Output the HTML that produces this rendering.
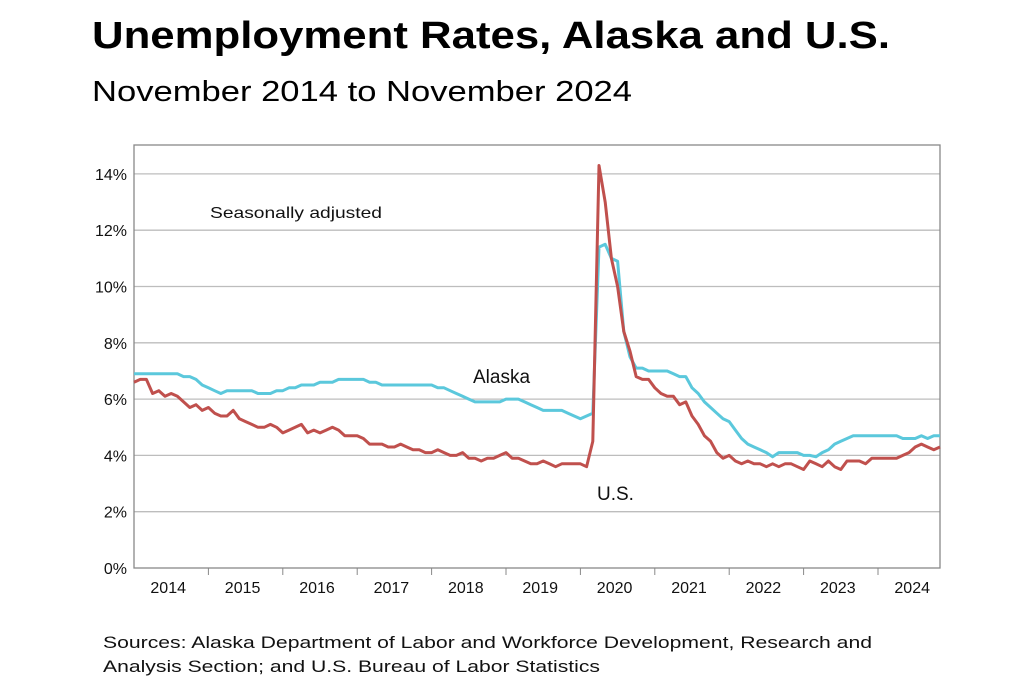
<!DOCTYPE html>
<html><head><meta charset="utf-8"><style>
html,body{margin:0;padding:0;background:#fff;}
body{width:1024px;height:682px;overflow:hidden;position:relative;font-family:"Liberation Sans",sans-serif;}
</style></head><body>
<svg width="1024" height="682" viewBox="0 0 1024 682" xmlns="http://www.w3.org/2000/svg" font-family="Liberation Sans, sans-serif">
<text x="92" y="48" font-size="38" font-weight="bold" fill="#000" textLength="798" lengthAdjust="spacingAndGlyphs">Unemployment Rates, Alaska and U.S.</text>
<text x="92" y="101" font-size="29" fill="#000" textLength="540" lengthAdjust="spacingAndGlyphs">November 2014 to November 2024</text>
<g id="grid" stroke="#bdbdbd" stroke-width="1.3"></g>
<rect x="134" y="145" width="806" height="423" fill="none" stroke="#888" stroke-width="1.3"/>
<g id="ylab" font-size="16" fill="#111" text-anchor="end"></g>
<g id="xlab" font-size="16" fill="#111" text-anchor="middle"></g>
<g id="ticks" stroke="#888" stroke-width="1"></g>
<polyline id="ak" fill="none" stroke="#5bc8dc" stroke-width="3" stroke-linejoin="round"/>
<polyline id="us" fill="none" stroke="#c0504d" stroke-width="3" stroke-linejoin="round"/>
<text x="210" y="218" font-size="16" fill="#111" textLength="172" lengthAdjust="spacingAndGlyphs">Seasonally adjusted</text>
<text x="473" y="383" font-size="19" fill="#111">Alaska</text>
<text x="597" y="500" font-size="19" fill="#111">U.S.</text>
<text x="103" y="648" font-size="17" fill="#111" textLength="769" lengthAdjust="spacingAndGlyphs">Sources: Alaska Department of Labor and Workforce Development, Research and</text>
<text x="103" y="672" font-size="17" fill="#111" textLength="497" lengthAdjust="spacingAndGlyphs">Analysis Section; and U.S. Bureau of Labor Statistics</text>
</svg>
<script>
var ns="http://www.w3.org/2000/svg";
function Y(v){return 568-v*28.15;}
function el(p,t,a,txt){var e=document.createElementNS(ns,t);for(var k in a)e.setAttribute(k,a[k]);if(txt)e.textContent=txt;document.getElementById(p).appendChild(e);}
for(var i=1;i<=7;i++){el("grid","line",{x1:134,x2:940,y1:Y(2*i),y2:Y(2*i)});}
for(var i=0;i<=7;i++){el("ylab","text",{x:127,y:Y(2*i)+6},(2*i)+"%");}
var step=806/130, yw=step*12;
for(var i=0;i<11;i++){var x0=134+i*yw;el("xlab","text",{x:x0+yw/2-3,y:593},String(2014+i));
 if(i>0)el("ticks","line",{x1:x0,x2:x0,y1:568,y2:575});}
var ak=[6.9,6.9,6.9,6.9,6.9,6.9,6.9,6.9,6.8,6.8,6.7,6.5,
6.4,6.3,6.2,6.3,6.3,6.3,6.3,6.3,6.2,6.2,6.2,6.3,
6.3,6.4,6.4,6.5,6.5,6.5,6.6,6.6,6.6,6.7,6.7,6.7,
6.7,6.7,6.6,6.6,6.5,6.5,6.5,6.5,6.5,6.5,6.5,6.5,
6.5,6.4,6.4,6.3,6.2,6.1,6.0,5.9,5.9,5.9,5.9,5.9,
6.0,6.0,6.0,5.9,5.8,5.7,5.6,5.6,5.6,5.6,5.5,5.4,
5.3,5.4,5.5,11.4,11.5,11.0,10.9,8.4,7.5,7.1,7.1,7.0,
7.0,7.0,7.0,6.9,6.8,6.8,6.4,6.2,5.9,5.7,5.5,5.3,
5.2,4.9,4.6,4.4,4.3,4.2,4.1,3.95,4.1,4.1,4.1,4.1,
4.0,4.0,3.95,4.1,4.2,4.4,4.5,4.6,4.7,4.7,4.7,4.7,
4.7,4.7,4.7,4.7,4.6,4.6,4.6,4.7,4.6,4.7,4.7];
var us=[6.6,6.7,6.7,6.2,6.3,6.1,6.2,6.1,5.9,5.7,5.8,5.6,
5.7,5.5,5.4,5.4,5.6,5.3,5.2,5.1,5.0,5.0,5.1,5.0,
4.8,4.9,5.0,5.1,4.8,4.9,4.8,4.9,5.0,4.9,4.7,4.7,
4.7,4.6,4.4,4.4,4.4,4.3,4.3,4.4,4.3,4.2,4.2,4.1,
4.1,4.2,4.1,4.0,4.0,4.1,3.9,3.9,3.8,3.9,3.9,4.0,
4.1,3.9,3.9,3.8,3.7,3.7,3.8,3.7,3.6,3.7,3.7,3.7,
3.7,3.6,4.5,14.3,13.0,11.0,10.0,8.4,7.7,6.8,6.7,6.7,
6.4,6.2,6.1,6.1,5.8,5.9,5.4,5.1,4.7,4.5,4.1,3.9,
4.0,3.8,3.7,3.8,3.7,3.7,3.6,3.7,3.6,3.7,3.7,3.6,
3.5,3.8,3.7,3.6,3.8,3.6,3.5,3.8,3.8,3.8,3.7,3.9,
3.9,3.9,3.9,3.9,4.0,4.1,4.3,4.4,4.3,4.2,4.3];
function pts(a){return a.map(function(v,i){return (134+i*step).toFixed(1)+","+Y(v).toFixed(1);}).join(" ");}
document.getElementById("ak").setAttribute("points",pts(ak));
document.getElementById("us").setAttribute("points",pts(us));
</script>
</body></html>
